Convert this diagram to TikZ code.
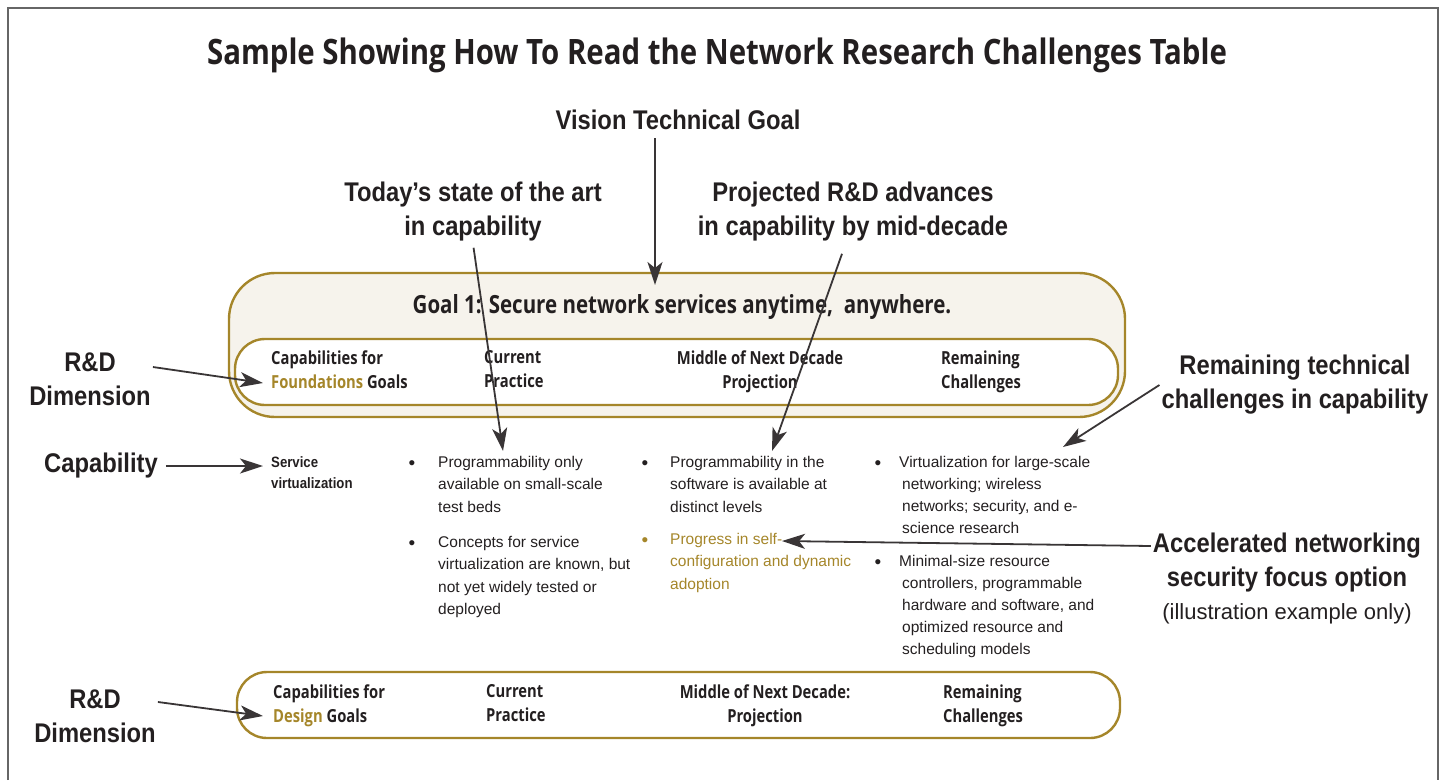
\documentclass[tikz,border=0pt]{standalone}
\usepackage{fontspec}
\setmainfont{Liberation Sans}
\newfontfamily\headfont[FakeStretch=0.82]{Open Sans}
\newfontfamily\titlefont[FakeStretch=0.84]{Open Sans}
\newfontfamily\callfont[FakeStretch=0.88]{Liberation Sans}
\usetikzlibrary{arrows.meta}
\definecolor{gold}{HTML}{A5862A}
\definecolor{beige}{HTML}{F6F3EC}
\definecolor{ink}{HTML}{231F20}

\begin{document}
\begin{tikzpicture}[x=1pt,y=-1pt,
  call/.style={font=\callfont\bfseries\fontsize{27}{34}\selectfont,align=center,text=ink,inner sep=2pt},
  head/.style={font=\headfont\bfseries\fontsize{18}{24}\selectfont,text=ink,inner sep=0pt},
  item/.style={font=\fontsize{15.5}{22.4}\selectfont,align=left,anchor=north west,inner sep=0pt,text=ink},
  dot/.style={font=\fontsize{19}{20}\selectfont,inner sep=0pt,text=ink},
  box/.style={draw=gold,line width=2.4pt},
  arr/.style={draw=ink!90,line width=1.8pt,-{Stealth[length=23pt,width=15pt,inset=6pt]}}]
\useasboundingbox (0,0) rectangle (1445,780);
\draw[black!60,line width=1.2pt] (8,780) -- (8,8) -- (1438,8) -- (1438,780);

% title and call-outs
\node[font=\titlefont\bfseries\fontsize{35}{38}\selectfont,text=ink] (title) at (717,55) {Sample Showing How To Read the Network Research Challenges Table};
\node[call] (vision) at (678,120) {Vision Technical Goal};
\node[call] (today) at (473,212) {Today’s state of the art\\in capability};
\node[call] (proj) at (853,212) {Projected R\&D advances\\in capability by mid-decade};
\node[call] (rd1) at (90,379) {R\&D\\Dimension};
\node[call] (cap) at (101,466) {Capability};
\node[call] (rd2) at (95,716) {R\&D\\Dimension};
\node[call] (rem) at (1295,385) {Remaining technical\\challenges in capability};
\node[call] (acc) at (1287,563) {Accelerated networking\\security focus option};
\node[font=\fontsize{22}{26}\selectfont,text=ink] (illus) at (1287,614) {(illustration example only)};

% goal box
\draw[box,fill=beige,rounded corners=46pt] (229,273) rectangle (1125,417);
\draw[box,fill=white,rounded corners=30pt] (235,339) rectangle (1118,405);
\node[font=\headfont\bfseries\fontsize{25}{28}\selectfont,text=ink] (goal) at (682,307) {Goal 1: Secure network services anytime,\ \ anywhere.};
\node[head,anchor=west,align=left] (h1) at (271,370) {Capabilities for\\\textcolor{gold}{Foundations} Goals};
\node[head,anchor=west,align=left] (h2) at (484,369) {Current\\Practice};
\node[head,align=center] (h3) at (760,372) {Middle of Next Decade\\Projection};
\node[head,anchor=west,align=left] (h4) at (941,372) {Remaining\\Challenges};

% capability row
\node[font=\callfont\bfseries\fontsize{15}{21}\selectfont,text=ink,align=left,anchor=west,inner sep=0pt] (svc) at (271,473) {Service\\virtualization};
\node[dot] (d1) at (412,465) {•};
\node[item] (c1a) at (438,456) {Programmability only\\available on small-scale\\test beds};
\node[dot] (d2) at (412,545) {•};
\node[item] (c1b) at (438,536) {Concepts for service\\virtualization are known, but\\not yet widely tested or\\deployed};
\node[dot] (d3) at (645,465) {•};
\node[item] (c2a) at (670,456) {Programmability in the\\software is available at\\distinct levels};
\node[dot,text=gold] (d4) at (645,542) {•};
\node[item,text=gold] (c2b) at (670,533) {Progress in self-\\configuration and dynamic\\adoption};
\node[dot] (d5) at (878,465) {•};
\node[item,font=\fontsize{15.5}{22}\selectfont] (c3a) at (899,456) {Virtualization for large-scale\\\hspace*{3pt}networking; wireless\\\hspace*{3pt}networks; security, and e-\\\hspace*{3pt}science research};
\node[dot] (d6) at (878,564) {•};
\node[item,font=\fontsize{15.5}{22}\selectfont] (c3b) at (899,555) {Minimal-size resource\\\hspace*{3pt}controllers, programmable\\\hspace*{3pt}hardware and software, and\\\hspace*{3pt}optimized resource and\\\hspace*{3pt}scheduling models};

% design box
\draw[box,rounded corners=30pt] (237,672) rectangle (1120,738);
\node[head,anchor=west,align=left] (g1) at (273,706) {Capabilities for\\\textcolor{gold}{Design} Goals};
\node[head,anchor=west,align=left] (g2) at (486,703) {Current\\Practice};
\node[head,align=center] (g3) at (765,706) {Middle of Next Decade:\\Projection};
\node[head,anchor=west,align=left] (g4) at (943,706) {Remaining\\Challenges};

% arrows
\coordinate (vtip) at (655,285);
\coordinate (ttip) at (503,451);
\coordinate (ptip) at (772,451);
\coordinate (r1tip) at (263,383);
\coordinate (ctip) at (263,466);
\coordinate (r2tip) at (263,716);
\coordinate (remtip) at (1063,447);
\coordinate (acctip) at (782,541);
\draw[arr,shorten <=6pt] (vision.south -| vtip) -- (vtip);
\draw[arr,shorten <=4pt] (today.south) -- (ttip);
\draw[arr] ([xshift=-11pt,yshift=-10pt]proj.south) -- (ptip);
\draw[arr] ([yshift=12pt]rd1.east) -- (r1tip);
\draw[arr,shorten <=6pt] (cap.east) -- (ctip);
\draw[arr] ([yshift=14pt]rd2.east) -- (r2tip);
\draw[arr] (rem.west) -- (remtip);
\draw[arr] ([yshift=17pt]acc.west) -- (acctip);
\end{tikzpicture}
\end{document}
